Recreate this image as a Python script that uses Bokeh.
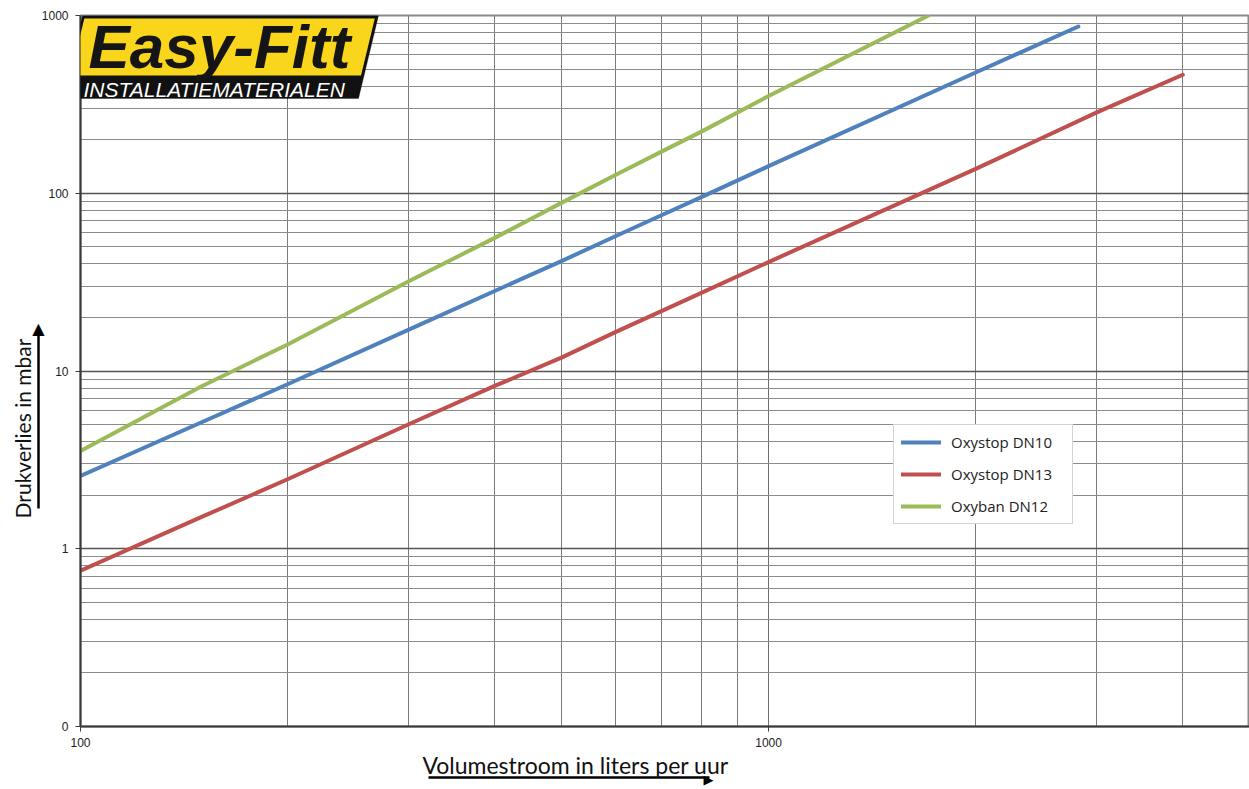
import math
from bokeh.plotting import figure
from bokeh.models import (FixedTicker, CustomJSTickFormatter, Label, LogAxis,
                          PolyAnnotation, Legend, LegendItem, Range1d)
from bokeh.embed import file_html
from bokeh.resources import INLINE

# ---------------- data ----------------
flow_dn10 = [100, 150, 200, 300, 400, 500, 600, 700, 800, 1000, 2000, 2820]
loss_dn10 = [2.57, 5.15, 8.42, 17.1, 28.2, 41.5, 57.5, 75.5, 95.5, 142, 478, 867]

flow_dn13 = [100, 150, 200, 300, 400, 500, 600, 700, 800, 1000, 2000, 3000, 4000]
loss_dn13 = [0.752, 1.51, 2.46, 5.02, 8.24, 11.9, 16.6, 21.8, 27.6, 41.0, 137, 285, 464]

flow_dn12 = [100, 150, 200, 300, 400, 500, 600, 700, 800, 1000, 1708]
loss_dn12 = [3.55, 8.2, 14.1, 32.0, 56.1, 88.3, 127, 172, 223, 352, 1000]

series_names = ["Oxystop DN10", "Oxystop DN13", "Oxyban DN12"]
series_colors = ["#4F81BD", "#C0504D", "#9BBB59"]

x_major = [100, 1000]
x_labels = ["100", "1000"]
x_minor = [200, 300, 400, 500, 600, 700, 800, 900, 2000, 3000, 4000]

y_major = [0.1, 1, 10, 100, 1000]
y_labels = ["0", "1", "10", "100", "1000"]
y_minor = [m * d for d in (0.1, 1, 10, 100) for m in range(2, 10)]

x_title = "Volumestroom in liters per uur"
y_title = "Drukverlies in mbar"
logo_top = "Easy-Fitt"
logo_bottom = "INSTALLATIEMATERIALEN"
head_right = "\u25B6"
head_up = "\u25B2"

# ---------------- layout constants (pixels) ----------------
W, H = 1249, 789
FL, FT, FB = 80, 15, 726            # frame left / top / bottom
X0, X1 = 100, 5000
Y0, Y1 = 0.1, 1000
px_per_dec_x = (W - FL) / math.log10(X1 / X0)
px_per_dec_y = (FB - FT) / math.log10(Y1 / Y0)


def x_at(px):
    return X0 * 10 ** ((px - FL) / px_per_dec_x)


def y_at(py):
    return Y0 * 10 ** ((FB - py) / px_per_dec_y)


# ---------------- figure ----------------
p = figure(width=W, height=H, x_axis_type="log", y_axis_type="log",
           x_range=Range1d(X0, X1), y_range=Range1d(Y0, Y1),
           output_backend="svg", toolbar_location=None,
           min_border_left=FL, min_border_top=FT, min_border_bottom=H - FB, min_border_right=0)
p.background_fill_color = "white"
p.border_fill_color = "white"
p.outline_line_color = "#8a8a8a"
p.outline_line_width = 2

fmt_code = """
for (let i = 0; i < tvals.length; i++) {
  if (Math.abs(Math.log10(tvals[i]) - Math.log10(tick)) < 1e-6) return tlabels[i];
}
return "";
"""
xt = FixedTicker(ticks=x_major, minor_ticks=x_minor)
yt = FixedTicker(ticks=y_major, minor_ticks=y_minor)
p.xaxis.ticker = xt
p.yaxis.ticker = yt
p.xgrid.ticker = xt
p.ygrid.ticker = yt
p.xaxis.formatter = CustomJSTickFormatter(args=dict(tvals=x_major, tlabels=x_labels), code=fmt_code)
p.yaxis.formatter = CustomJSTickFormatter(args=dict(tvals=y_major, tlabels=y_labels), code=fmt_code)

for ax in (p.xaxis, p.yaxis):
    ax.axis_line_color = "#3a3a3a"
    ax.axis_line_width = 2
    ax.major_tick_line_color = "#3a3a3a"
    ax.major_tick_out = 5
    ax.major_tick_in = 0
    ax.minor_tick_line_color = None
    ax.major_label_text_font = "Liberation Sans"
    ax.major_label_text_font_size = "12px"
    ax.major_label_text_color = "#222222"
p.yaxis.major_label_standoff = 7
p.xaxis.major_label_standoff = 6

p.xgrid.grid_line_color = "#6e6e6e"
p.xgrid.minor_grid_line_color = "#7a7a7a"
p.xgrid.grid_line_width = 1
p.ygrid.grid_line_color = "#555555"
p.ygrid.grid_line_width = 1.5
p.ygrid.minor_grid_line_color = "#8c8c8c"

# ---------------- curves ----------------
renderers = []
for xs, ys, c in ((flow_dn10, loss_dn10, series_colors[0]),
                  (flow_dn13, loss_dn13, series_colors[1]),
                  (flow_dn12, loss_dn12, series_colors[2])):
    r = p.line(xs, ys, line_color=c, line_width=4, line_cap="round", line_join="round")
    renderers.append(r)

legend = Legend(items=[LegendItem(label=n, renderers=[r]) for n, r in zip(series_names, renderers)],
                location=(813, 202), border_line_color="#a6a6a6", border_line_width=1,
                background_fill_color="white", background_fill_alpha=1.0,
                label_text_font="Open Sans", label_text_font_size="15px", label_text_color="#222222",
                glyph_width=40, glyph_height=20, label_height=20, label_width=114,
                spacing=12, padding=7, margin=0, label_standoff=10)
p.add_layout(legend)

# ---------------- axis titles (side panels) ----------------
p.add_layout(Label(x=575, y=764, x_units="canvas", y_units="canvas", text=x_title,
                   text_align="center", text_baseline="middle", text_font="Lato",
                   text_font_size="23px", text_color="#111111"), "below")


def arrow_axis(side, bounds, head_pos, head, size, standoff):
    ax = LogAxis(bounds=bounds,
                 ticker=FixedTicker(ticks=[head_pos], minor_ticks=[]),
                 formatter=CustomJSTickFormatter(args=dict(hd=head), code="return hd;"))
    ax.axis_line_color = "black"
    ax.axis_line_width = 2.5
    ax.major_tick_line_color = None
    ax.minor_tick_line_color = None
    ax.major_tick_out = 0
    ax.major_tick_in = 0
    ax.major_label_text_font = "DejaVu Sans"
    ax.major_label_text_font_size = size
    ax.major_label_text_color = "black"
    ax.major_label_standoff = standoff
    p.add_layout(ax, side)
    return ax


hx = x_at(708)
arrow_axis("below", (x_at(428), hx * 1.002), hx, head_right, "13px", -6)

hy = y_at(328)
arrow_axis("left", (y_at(508), hy * 1.004), hy, head_up, "16px", -6)

p.add_layout(Label(x=22, y=428, x_units="canvas", y_units="canvas", text=y_title,
                   angle=math.pi / 2, text_align="center", text_baseline="middle",
                   text_font="Lato", text_font_size="21px", text_color="#111111"), "left")

# ---------------- logo ----------------
p.add_layout(PolyAnnotation(xs=[82, 378, 358, 62], ys=[15, 15, 98, 98],
                            xs_units="canvas", ys_units="canvas",
                            fill_color="#111111", fill_alpha=1.0, line_color="#111111"))
p.add_layout(PolyAnnotation(xs=[83.8, 374.3, 360.5, 70.0], ys=[18, 18, 75, 75],
                            xs_units="canvas", ys_units="canvas",
                            fill_color="#F9D51B", fill_alpha=1.0, line_color=None))
p.add_layout(Label(x=88, y=46, x_units="canvas", y_units="canvas", text=logo_top,
                   text_baseline="middle", text_font="Liberation Sans",
                   text_font_style="bold italic", text_font_size="62px", text_color="#151515"))
p.add_layout(Label(x=83, y=89, x_units="canvas", y_units="canvas", text=logo_bottom,
                   text_baseline="middle", text_font="Liberation Sans",
                   text_font_style="italic", text_font_size="21px", text_color="white"))

open("out.html", "w").write(file_html(p, INLINE))
